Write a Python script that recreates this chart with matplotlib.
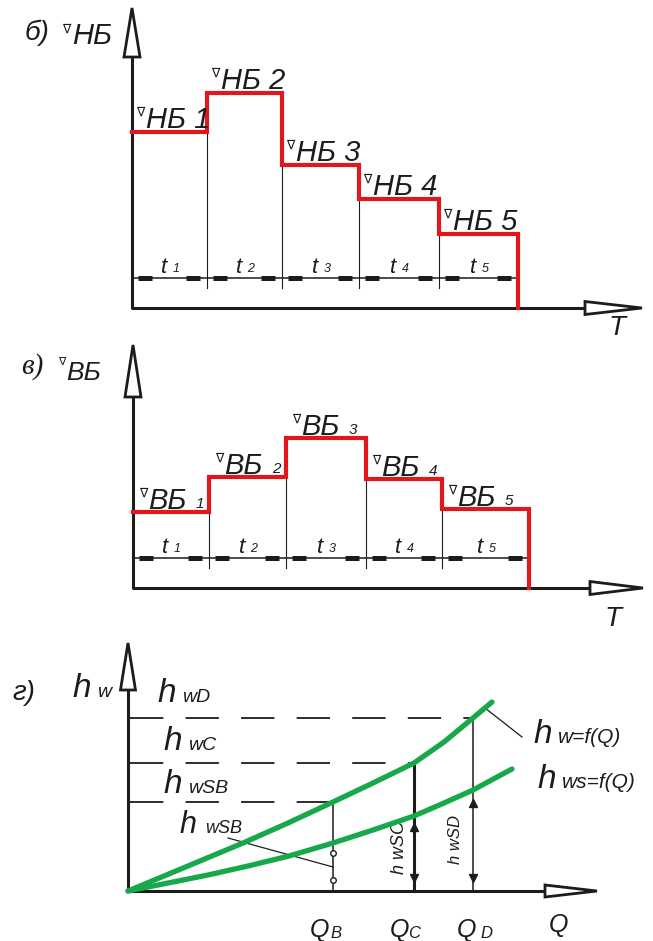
import matplotlib
matplotlib.use('Agg')
import matplotlib.pyplot as plt
from matplotlib.patches import Polygon
import numpy as np

plt.rcParams['lines.scale_dashes'] = False

W, H = 653, 941
RED = '#e2171c'
GREEN = '#17a84b'
INK = '#1c1c1c'
FONT = ['Liberation Sans', 'DejaVu Sans']
SERIF = ['Liberation Serif', 'DejaVu Serif']

# ---------------- data ----------------
# panel б : tailwater levels per period
nb_durations = [75, 75, 77, 80, 79]
nb_levels = [176, 215, 143, 109, 74]
nb_names = ['НБ 1', 'НБ 2', 'НБ 3', 'НБ 4', 'НБ 5']
# panel в : headwater levels per period
vb_durations = [76, 77, 80, 76, 87]
vb_levels = [76, 111, 150, 109, 79]
vb_subs = ['1', '2', '3', '4', '5']
t_subs = ['1', '2', '3', '4', '5']
# panel г : head losses vs discharge
q_hw = [0, 60, 115, 160, 205, 245, 286, 316, 345, 364]
hw = [0, 25, 48, 68, 89, 108, 128, 149, 173, 189]
q_hws = [0, 40, 80, 120, 161, 205, 245, 286, 316, 345, 384]
hws = [0, 8, 16, 25, 35, 48, 61, 75, 88, 101, 122]
q_marks = [205, 286, 345]
q_mark_names = ['B', 'C', 'D']
hw_at_marks = [89, 128, 173]
hws_at_marks = [48, 75, 101]

fig = plt.figure(figsize=(W / 100, H / 100), dpi=100)
fig.patch.set_facecolor('white')


def panel_axes(y_top, y_bot, ox, oy):
    ax = fig.add_axes([0, 1 - y_bot / H, 1, (y_bot - y_top) / H])
    ax.set_xlim(0 - ox, W - ox)
    ax.set_ylim(oy - y_bot, oy - y_top)
    ax.axis('off')
    return ax


def txt(ax, x, y, s, size, fam=FONT, style='italic', **kw):
    kw.setdefault('va', 'baseline')
    kw.setdefault('ha', 'left')
    return ax.text(x, y, s, fontsize=size, family=fam, style=style,
                   color=INK, **kw)


def frame(ax, ytip, ybase, yhw, xtip, xbase, xhh):
    ax.plot([0, 0, xbase], [ybase, 0, 0], color=INK, lw=2.2,
            solid_joinstyle='round', solid_capstyle='butt', zorder=3)
    ax.add_patch(Polygon([(-yhw, ybase), (0, ytip), (yhw, ybase)],
                         closed=True, fc='white', ec=INK, lw=2, zorder=4))
    ax.add_patch(Polygon([(xbase, -xhh), (xtip, 0), (xbase, xhh)],
                         closed=True, fc='white', ec=INK, lw=2, zorder=4))


def steps(ax, durations, levels, top_tick=20, dim_y=30):
    edges = np.concatenate([[0], np.cumsum(durations)])
    xs = list(np.repeat(edges, 2)[1:-1]) + [edges[-1]]
    ys = list(np.repeat(levels, 2)) + [0]
    for i in range(1, len(edges) - 1):
        lo = min(levels[i - 1], levels[i])
        ax.plot([edges[i], edges[i]], [lo, top_tick], color=INK, lw=0.8, zorder=2)
    ax.plot([0, edges[-1]], [dim_y, dim_y], color=INK, lw=1.1, zorder=2)
    for i in range(len(durations)):
        a, b = edges[i], edges[i + 1]
        ax.plot([a + 6, a + 20], [dim_y, dim_y], color=INK, lw=3.6,
                solid_capstyle='butt', zorder=3)
        ax.plot([b - 21, b - 7], [dim_y, dim_y], color=INK, lw=3.6,
                solid_capstyle='butt', zorder=3)
        c = (a + b) / 2
        txt(ax, c - 9, dim_y + 5, 't', 16, fam=FONT)
        txt(ax, c + 3, dim_y + 6, t_subs[i], 9)
    ax.plot(xs, ys, color=RED, lw=3.0, solid_joinstyle='miter', zorder=5)
    return edges


# ---------------- panel б ----------------
ax1 = panel_axes(0, 336, 132, 308)
frame(ax1, 300, 251, 8, 510, 453, 6.5)
e1 = steps(ax1, nb_durations, nb_levels)
for i, (a, lev) in enumerate(zip(e1[:-1], nb_levels)):
    ax1.text(a + 4, lev + 13, '∇', fontsize=9, family='DejaVu Sans',
             color=INK, va='bottom', ha='left', zorder=6)
    txt(ax1, a + 14, lev + 4, nb_names[i], 21, zorder=6)
txt(ax1, -107, 275, 'б)', 20, va='center')
ax1.text(-70, 279, '∇', fontsize=9, family='DejaVu Sans', color=INK, va='center')
txt(ax1, -60, 264, 'НБ', 21)
txt(ax1, 485, -20, 'T', 20, va='center', ha='center')

# ---------------- panel в ----------------
ax2 = panel_axes(336, 632, 133, 588)
frame(ax2, 243, 191, 8, 510, 457, 6.5)
e2 = steps(ax2, vb_durations, vb_levels)
for i, (a, lev) in enumerate(zip(e2[:-1], vb_levels)):
    ax2.text(a + 6, lev + 12, '∇', fontsize=9, family='DejaVu Sans',
             color=INK, va='bottom', ha='left', zorder=6)
    txt(ax2, a + 15, lev + 3, 'ВБ', 21, zorder=6)
    txt(ax2, a + 63, lev + 4, vb_subs[i], 11, zorder=6)
txt(ax2, -112, 221, 'в)', 21, fam=SERIF, va='center')
ax2.text(-75, 226, '∇', fontsize=8, family='DejaVu Sans', color=INK, va='center')
txt(ax2, -67, 208, 'ВБ', 19)
txt(ax2, 480, -31, 'T', 20, va='center', ha='center')

# ---------------- panel г ----------------
ax3 = panel_axes(632, 941, 128, 891)
frame(ax3, 248, 201, 7.5, 469, 417, 6)

for q, h in zip(q_marks, hw_at_marks):
    ax3.plot([2, q], [h, h], color=INK, lw=1.3, dashes=[24, 16], zorder=2)
for j, (q, h) in enumerate(zip(q_marks, hw_at_marks)):
    ax3.plot([q, q], [0, h], color=INK, lw=2.2 if j == 1 else 1.1, zorder=2)

ax3.plot(q_hw, hw, color=GREEN, lw=3.8, solid_capstyle='round',
         solid_joinstyle='round', zorder=5)
ax3.plot(q_hws, hws, color=GREEN, lw=3.8, solid_capstyle='round',
         solid_joinstyle='round', zorder=5)

qb, qc, qd = q_marks
ax3.plot([qb, qb], [38, 11], ls='none', marker='o', ms=4, mfc='white',
         mec=INK, mew=1, zorder=6)
ax3.plot([qc], [hws_at_marks[1] - 11], marker='^', ms=6, color=INK, ls='none', zorder=6)
ax3.plot([qc], [13], marker='v', ms=6, color=INK, ls='none', zorder=6)
ax3.plot([qd], [hws_at_marks[2] - 13], marker='^', ms=6, color=INK, ls='none', zorder=6)
ax3.plot([qd], [13], marker='v', ms=6, color=INK, ls='none', zorder=6)

ax3.plot([100, qb], [53, 24], color=INK, lw=0.9, zorder=3)
ax3.plot([q_hw[-1] - 7, 394], [hw[-1] - 6, 154], color=INK, lw=0.9, zorder=3)

txt(ax3, -116, 198, 'г)', 20, va='center')
txt(ax3, -56, 194, 'h', 24)
txt(ax3, -31, 194, 'w', 14)
txt(ax3, 29, 189, 'h', 24)
txt(ax3, 54, 189, 'wD', 14)
txt(ax3, 35, 141, 'h', 24)
txt(ax3, 60, 141, 'wC', 14)
txt(ax3, 35, 98, 'h', 24)
txt(ax3, 60, 98, 'wSB', 14)
txt(ax3, 52, 58, 'h', 22)
txt(ax3, 77, 58, 'wSB', 13)
txt(ax3, 405, 148, 'h', 24)
txt(ax3, 430, 148, 'w=f(Q)', 15)
txt(ax3, 409, 103, 'h', 24)
txt(ax3, 434, 103, 'ws=f(Q)', 15)
txt(ax3, qc - 14, 44, 'h wSC', 13, rotation=90, va='center', ha='center')
txt(ax3, qd - 17, 52, 'h wSD', 12, rotation=90, va='center', ha='center')

sub_dx = [-3, -6, 7]
q_dx = [-23, -24, -16]
for q, nm, dq, ds in zip(q_marks, q_mark_names, q_dx, sub_dx):
    txt(ax3, q + dq, -39, 'Q', 18, va='center')
    txt(ax3, q + ds, -42, nm, 12, va='center')
txt(ax3, 431, -34, 'Q', 18, va='center', ha='center')

fig.savefig('out.png', dpi=100, facecolor='white')
